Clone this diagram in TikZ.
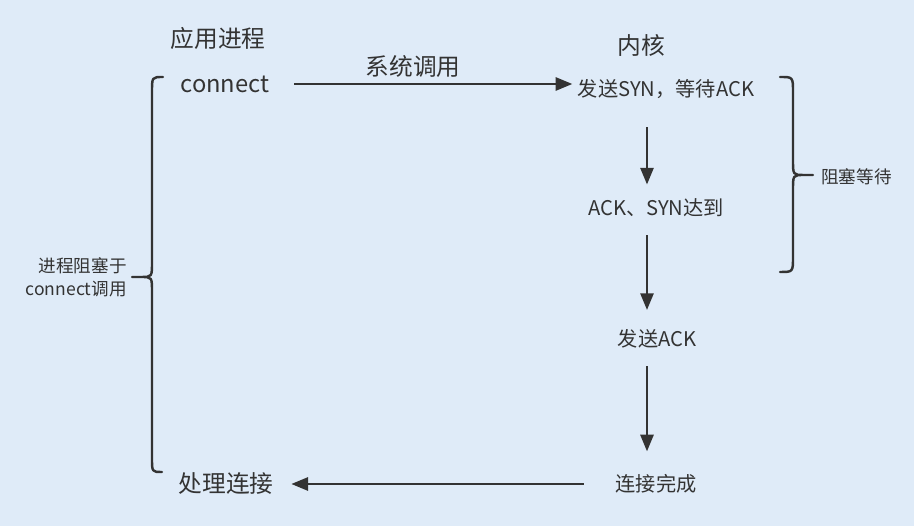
\documentclass[tikz,border=0pt]{standalone}
\usepackage{fontspec}
\setmainfont{Noto Sans CJK SC}
\usepackage{xcolor}
\usetikzlibrary{arrows.meta}
\definecolor{bgblue}{HTML}{DFEBF8}
\definecolor{ink}{HTML}{333333}

\begin{document}
\begin{tikzpicture}[x=0.02cm,y=-0.02cm,
  lbl/.style={inner sep=0pt,text=ink,font=\fontsize{11.5}{13}\selectfont},
  big/.style={lbl,font=\fontsize{13.5}{16}\selectfont},
  small/.style={lbl,font=\fontsize{10}{13}\selectfont},
  flow/.style={draw=ink,line width=1.3pt,-{Triangle[length=9.5pt,width=7.5pt]}},
  curly/.style={draw=ink,line width=1.4pt,line cap=round,line join=round}]
\fill[bgblue] (0,0) rectangle (914,526);
\node[big] (app) at (218,38) {应用进程};
\node[big] (kern) at (641,45) {内核};
\node[big] (conn) at (225,84) {connect};
\node[big] (call) at (413,67) {系统调用};
\node[lbl] (syn) at (666,89) {发送SYN，等待ACK};
\node[lbl] (ack) at (656,208) {ACK、SYN达到};
\node[lbl] (sack) at (657,339) {发送ACK};
\node[lbl] (done) at (656,484) {连接完成};
\node[big] (handle) at (226,484) {处理连接};
\node[small,anchor=east,align=right] (blockL) at (127,277) {进程阻塞于\\connect调用};
\node[small,anchor=west] (wait) at (821,177) {阻塞等待};
\coordinate (spine) at (647,0);
% arrows
\draw[flow,shorten <=14pt,shorten >=3pt] (conn.east) -- (conn.east -| syn.west);
\draw[flow,shorten <=16pt,shorten >=8pt] (syn.south -| spine) -- (ack.north -| spine);
\draw[flow,shorten <=10pt,shorten >=11pt] (ack.south -| spine) -- (sack.north -| spine);
\draw[flow,shorten <=10pt,shorten >=13pt] (sack.south -| spine) -- (done.north -| spine);
\draw[flow,shorten <=18pt,shorten >=10pt] (done.west) -- (done.west -| handle.east);
% braces
\draw[curly] (163,77) .. controls (152,77) .. (152,92) -- (152,262)
  .. controls (152,277) .. (141,277) -- (132,277)
  (141,277) .. controls (152,277) .. (152,292) -- (152,458)
  .. controls (152,472) .. (162,472);
\draw[curly] (780,77) .. controls (793,77) .. (793,92) -- (793,160)
  .. controls (793,175) .. (804,175) -- (813,175)
  (804,175) .. controls (793,175) .. (793,190) -- (793,257)
  .. controls (793,272) .. (780,272);
\end{tikzpicture}
\end{document}
